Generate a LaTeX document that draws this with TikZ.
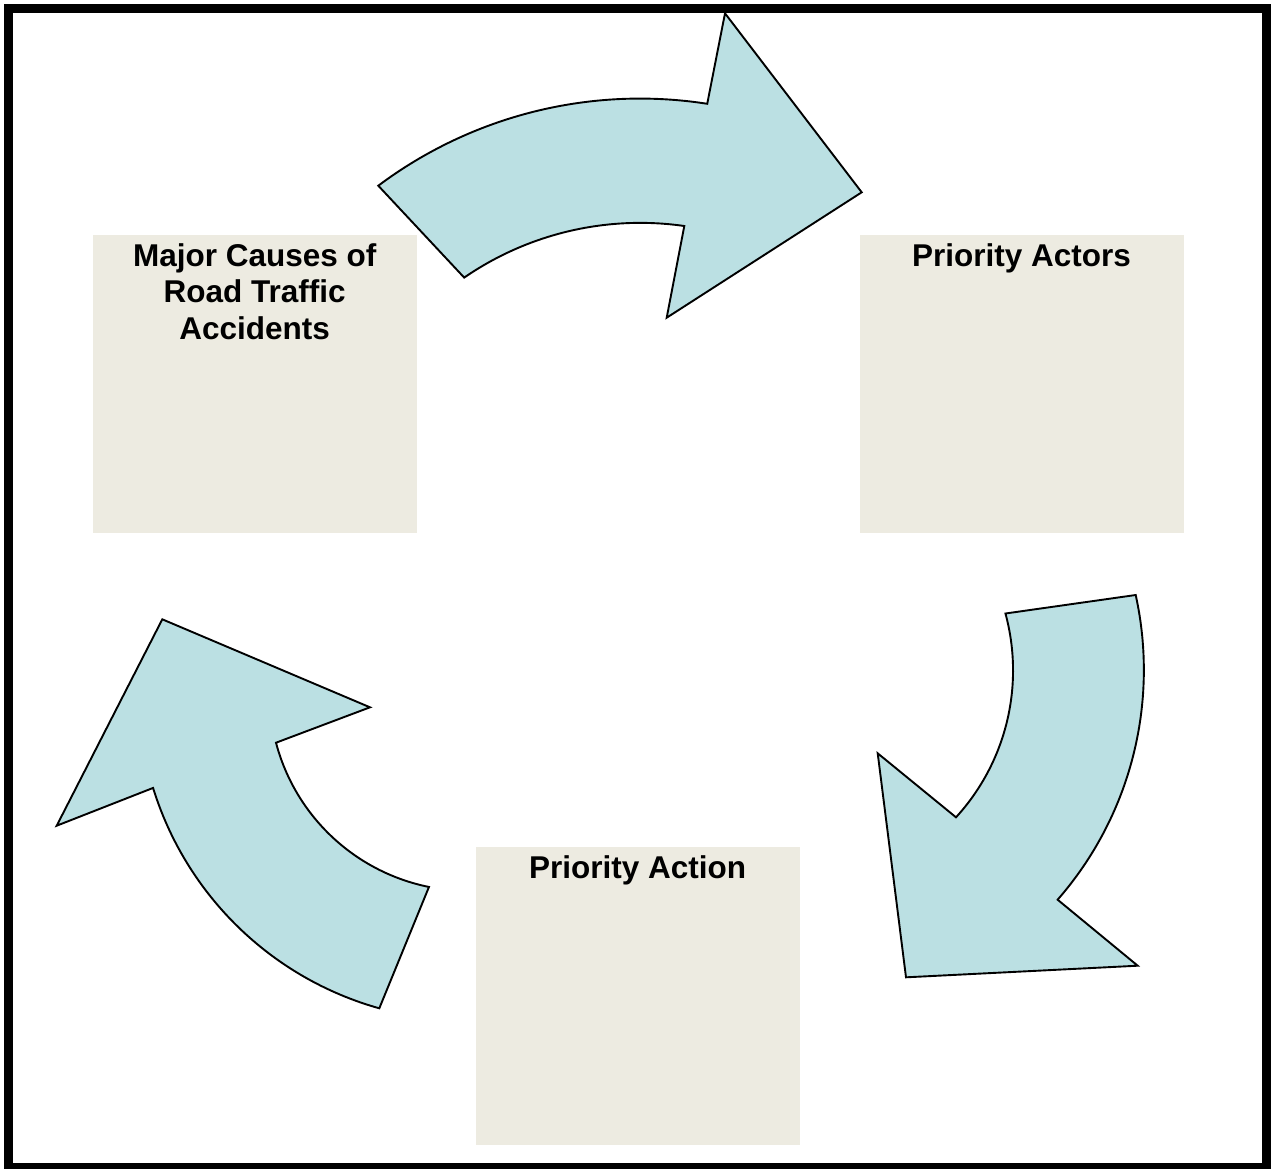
\documentclass[tikz,border=0pt]{standalone}
\usepackage{fontspec}
\setmainfont{Liberation Sans}
\definecolor{boxfill}{RGB}{237,235,225}
\definecolor{arrowfill}{RGB}{187,224,227}
\tikzset{
  infobox/.style={fill=boxfill, draw=none, inner sep=0pt, anchor=north west},
  cyclearrow/.style={fill=arrowfill, draw=black, line width=1.9pt, line join=miter},
  frameline/.style={draw=black, line width=8.7pt}
}
\newcommand{\boxtext}[1]{\parbox[t][298pt][t]{324pt}{\centering\fontsize{31.5}{36.5}\selectfont\bfseries\rule{0pt}{31pt}#1}}
\begin{document}
\begin{tikzpicture}[x=1pt,y=-1pt]
\useasboundingbox (0,0) rectangle (1272,1168);
\fill[white] (0,0) rectangle (1272,1168);
\draw[frameline] (8.3,8.3) rectangle (1266.3,1167.7);

\node[infobox] (causes) at (92.5,235) {\boxtext{Major Causes of\\Road Traffic\\Accidents}};
\node[infobox] (actors) at (859.3,235) {\boxtext{Priority Actors}};
\node[infobox] (action) at (475.5,847) {\boxtext{Priority Action}};

% top arrow
\draw[cyclearrow] (378.3,185.7) arc[start angle=126.84, end angle=81.13, radius=436.4pt]
  -- (725,13.3) -- (861.7,192.3) -- (666.7,317.7) -- (684.3,226)
  arc[start angle=81.84, end angle=124.54, radius=310.5pt] -- cycle;

% right arrow
\draw[cyclearrow] (1135.7,595) arc[start angle=12.41, end angle=-41.16, radius=349pt]
  -- (1137.7,965.7) -- (906,977.3) -- (877.7,753.3) -- (956,817.3)
  arc[start angle=-42.46, end angle=15.19, radius=217.5pt] -- cycle;

% left arrow
\draw[cyclearrow] (162.3,619.3) -- (370,707.3) -- (276,742.7)
  arc[start angle=194.79, end angle=258.57, radius=199pt] -- (379.3,1008.3)
  arc[start angle=254.34, end angle=197.16, radius=330pt] -- (56.7,825.7) -- cycle;
\end{tikzpicture}
\end{document}
